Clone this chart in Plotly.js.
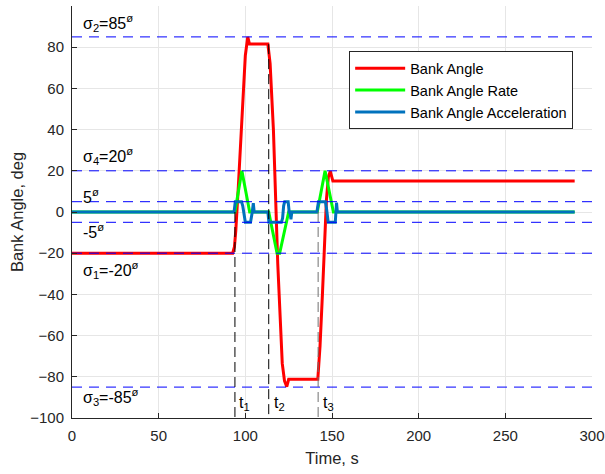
<!DOCTYPE html>
<html>
<head>
<meta charset="utf-8">
<script src="https://cdn.plot.ly/plotly-3.0.1.min.js"></script>
<style>html,body{margin:0;padding:0;background:#fff;}#chart{width:605px;height:474px;}</style>
</head>
<body>
<div id="chart"></div>
<script>
// ---- data ----
const seriesNames = ['Bank Angle', 'Bank Angle Rate', 'Bank Angle Acceleration'];

const bankT = [0, 92.7, 93.7, 94.5, 96, 98, 100, 101.4, 102.4, 113, 114.3, 116.2, 118.7, 121.3, 122.6, 123.9, 125, 141.8, 143.1, 144.5, 145.6, 146.8, 147.9, 149, 150.5, 290];
const bankV = [-20, -20, -17, -9, 13, 47, 76, 85, 81.5, 81.5, 72, 40, -25, -73.5, -82, -84.8, -81.2, -81.2, -65, -39.5, -15, 6, 17, 19.8, 15, 15];

const rateT = [0, 94, 98, 102.5, 113.5, 118.3, 119.8, 125, 141.5, 146, 150.8, 290];
const rateV = [0, 0, 20, 0, 0, -20, -20, 0, 0, 20, 0, 0];

const accT = [0, 93.5, 94.2, 97.8, 98.5, 99.3, 100, 103, 103.6, 104, 104.6, 105.1,
              113, 113.6, 120.8, 121.5, 122.1, 122.7, 124.7, 125.3, 125.8, 126.3, 126.8,
              141.3, 142.2, 146.2, 146.8, 147.3, 147.8, 151.9, 152.3, 152.6, 153.1, 290];
const accV = [0, 0, 5, 5, 3, -3, -5, -5, 0, 0, 4.3, 0,
              0, -5, -5, -3, 3, 5, 5, 0, 0, -3.5, 0,
              0, 5, 5, 2, -3, -5, -5, 0, 4.5, 0, 0];

const levels = [85, 20, 5, -5, -20, -85];          // horizontal reference lines
const eventT = [94, 113.5, 142];                    // t1, t2, t3
const eventTop = [0, 81.5, 0];
const eventNames = ['t<sub>1</sub>', 't<sub>2</sub>', 't<sub>3</sub>'];
const levelLabels = ['σ<sub>2</sub>=85<sup>ø</sup>', 'σ<sub>4</sub>=20<sup>ø</sup>', '5<sup>ø</sup>',
                     '-5<sup>ø</sup>', 'σ<sub>1</sub>=-20<sup>ø</sup>', 'σ<sub>3</sub>=-85<sup>ø</sup>'];
const xRange = [0, 300];
const yRange = [-100, 100];
const xTicks = [0, 50, 100, 150, 200, 250, 300];
const yTicks = [-100, -80, -60, -40, -20, 0, 20, 40, 60, 80, 100];

// ---- build traces ----
const FONT = 'Liberation Sans, Arial, Helvetica, sans-serif';
const traces = [
  {x: bankT, y: bankV, name: seriesNames[0], mode: 'lines', line: {color: '#ff0000', width: 3}},
  {x: rateT, y: rateV, name: seriesNames[1], mode: 'lines', line: {color: '#00ff00', width: 3}},
  {x: accT, y: accV, name: seriesNames[2], mode: 'lines', line: {color: '#0072bd', width: 3}}
];

const hx = [], hy = [];
levels.forEach(v => { hx.push(xRange[0], xRange[1], null); hy.push(v, v, null); });
traces.push({x: hx, y: hy, mode: 'lines', showlegend: false, hoverinfo: 'skip',
  line: {color: '#0000ff', width: 1, dash: '10px,7px'}});

eventT.forEach((t, i) => {
  traces.push({x: [t, t], y: [eventTop[i], yRange[0]], mode: 'lines', showlegend: false, hoverinfo: 'skip',
    line: {color: i === 2 ? '#707070' : '#000000', width: 1, dash: '10px,5px'}});
});

// ---- annotations ----
const labelPos = [[5, 91.8], [5, 27], [5.4, 7.6], [5.4, -9.4], [5, -28.2], [5, -89.8]];
const annotations = levelLabels.map((txt, i) => ({
  x: labelPos[i][0], y: labelPos[i][1], xref: 'x', yref: 'y', text: txt, showarrow: false,
  xanchor: 'left', yanchor: 'middle', font: {family: FONT, size: 16, color: '#000'}
}));
const eventLabelX = [95.2, 115.2, 143.4];
eventNames.forEach((txt, i) => annotations.push({
  x: eventLabelX[i], y: -92.8, xref: 'x', yref: 'y', text: txt, showarrow: false,
  xanchor: 'left', yanchor: 'middle', font: {family: FONT, size: 16, color: '#000'}
}));

const axisCommon = {
  showgrid: true, gridcolor: '#e6e6e6', gridwidth: 1,
  ticks: 'inside', ticklen: 5, tickcolor: '#262626', tickwidth: 1,
  showline: true, linecolor: '#262626', linewidth: 1, mirror: false,
  zeroline: false, automargin: false,
  tickfont: {family: FONT, size: 15, color: '#262626'}
};

const layout = {
  width: 605, height: 474,
  margin: {l: 72, r: 13, t: 6, b: 56},
  paper_bgcolor: '#ffffff', plot_bgcolor: '#ffffff',
  font: {family: FONT, color: '#262626'},
  xaxis: Object.assign({}, axisCommon, {
    range: xRange, tickvals: xTicks, ticklabelstandoff: 4,
    title: {text: 'Time, s', font: {family: FONT, size: 16.5, color: '#262626'}, standoff: 9}
  }),
  yaxis: Object.assign({}, axisCommon, {
    range: yRange, tickvals: yTicks, ticklabelstandoff: 4,
    title: {text: 'Bank Angle, deg', font: {family: FONT, size: 16.5, color: '#262626'}, standoff: 2}
  }),
  legend: {
    x: 0.533, y: 0.89, xanchor: 'left', yanchor: 'top',
    bgcolor: '#ffffff', bordercolor: '#262626', borderwidth: 1,
    font: {family: FONT, size: 14.5, color: '#000'}, itemwidth: 50, tracegroupgap: 0
  },
  annotations: annotations,
  showlegend: true
};

Plotly.newPlot('chart', traces, layout, {staticPlot: true, displayModeBar: false});
</script>
</body>
</html>
